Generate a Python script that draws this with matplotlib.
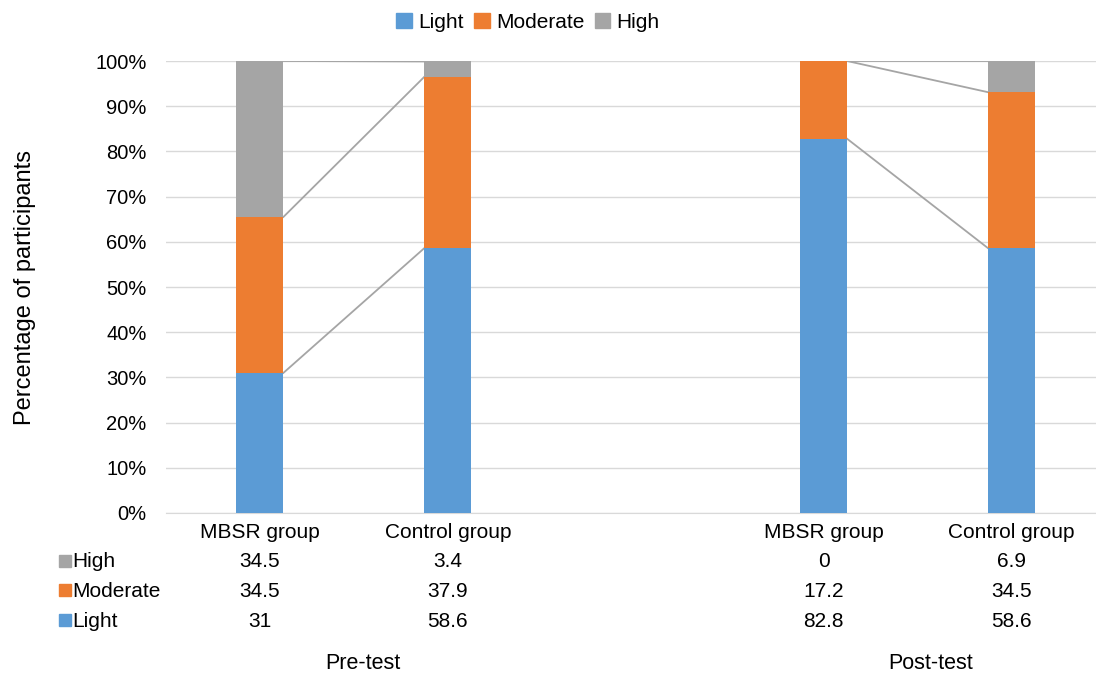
import matplotlib
matplotlib.use("Agg")
import matplotlib.pyplot as plt
import numpy as np

plt.rcParams['font.family'] = ['Liberation Sans', 'DejaVu Sans']

categories = ["MBSR group", "Control group", "MBSR group", "Control group"]
phases = ["Pre-test", "Post-test"]
light = [31, 58.6, 82.8, 58.6]
moderate = [34.5, 37.9, 17.2, 34.5]
high = [34.5, 3.4, 0, 6.9]
series_names = ["Light", "Moderate", "High"]
colors = ["#5B9BD5", "#ED7D31", "#A5A5A5"]

xpos = np.array([0, 1, 3, 4])
data = [light, moderate, high]

fig = plt.figure(figsize=(10.96, 6.73), dpi=100)
ax = fig.add_axes([166/1096, (673-513)/673, (1096-166)/1096, (513-61)/673])

bottom = np.zeros(4)
tops = []
for vals, c, n in zip(data, colors, series_names):
    v = np.array(vals, dtype=float)
    ax.bar(xpos, v, bottom=bottom, width=0.25, color=c, label=n, zorder=3)
    bottom = bottom + v
    tops.append(bottom.copy())

# series lines
for t in tops:
    for a, b in [(0, 1), (2, 3)]:
        ax.plot([xpos[a] + 0.125, xpos[b] - 0.125], [t[a], t[b]], color="#A5A5A5", lw=1.3, zorder=2)

ax.set_xlim(-0.5, 4.45)
ax.set_ylim(0, 100)
ax.set_yticks(np.arange(0, 101, 10))
ax.set_yticklabels([f"{v}%" for v in range(0, 101, 10)], fontsize=14.5)
ax.yaxis.grid(True, color="#D9D9D9", lw=1, zorder=0)
ax.tick_params(axis='y', length=0, pad=14)
ax.set_xticks([])
for s in ["top", "right", "left"]:
    ax.spines[s].set_visible(False)
ax.spines["bottom"].set_color("#D9D9D9")
ax.set_ylabel("Percentage of participants", fontsize=17)
ax.yaxis.set_label_coords(-0.14, 0.5)

# category labels
for x, c in zip(xpos, categories):
    ax.text(x, -2.2, c, ha="center", va="top", fontsize=15)

# data table
row_y = [-10.8, -17.3, -23.9]
rows = [("High", high, colors[2]), ("Moderate", moderate, colors[1]), ("Light", light, colors[0])]
for y, (name, vals, c) in zip(row_y, rows):
    ax.plot([-1.04], [y + 0.2], marker="s", ms=8.5, color=c, linestyle="none", clip_on=False)
    ax.text(-1.0, y, name, ha="left", va="center", fontsize=15)
    for x, v in zip(xpos, vals):
        s = f"{v:g}"
        ax.text(x, y, s, ha="center", va="center", fontsize=15)
for x, p in zip([0.55, 3.57], phases):
    ax.text(x, -33.4, p, ha="center", va="center", fontsize=15.5)

for t in ax.texts:
    t.set_clip_on(False)

handles = [plt.Rectangle((0, 0), 1, 1, color=c) for c in colors]
fig.legend(handles, series_names, loc="center", bbox_to_anchor=(528/1096, 1 - 22/673), ncol=3,
           frameon=False, fontsize=15, handlelength=0.75, handleheight=0.75, handletextpad=0.3,
           columnspacing=0.5)

fig.savefig("out.png", dpi=100)
